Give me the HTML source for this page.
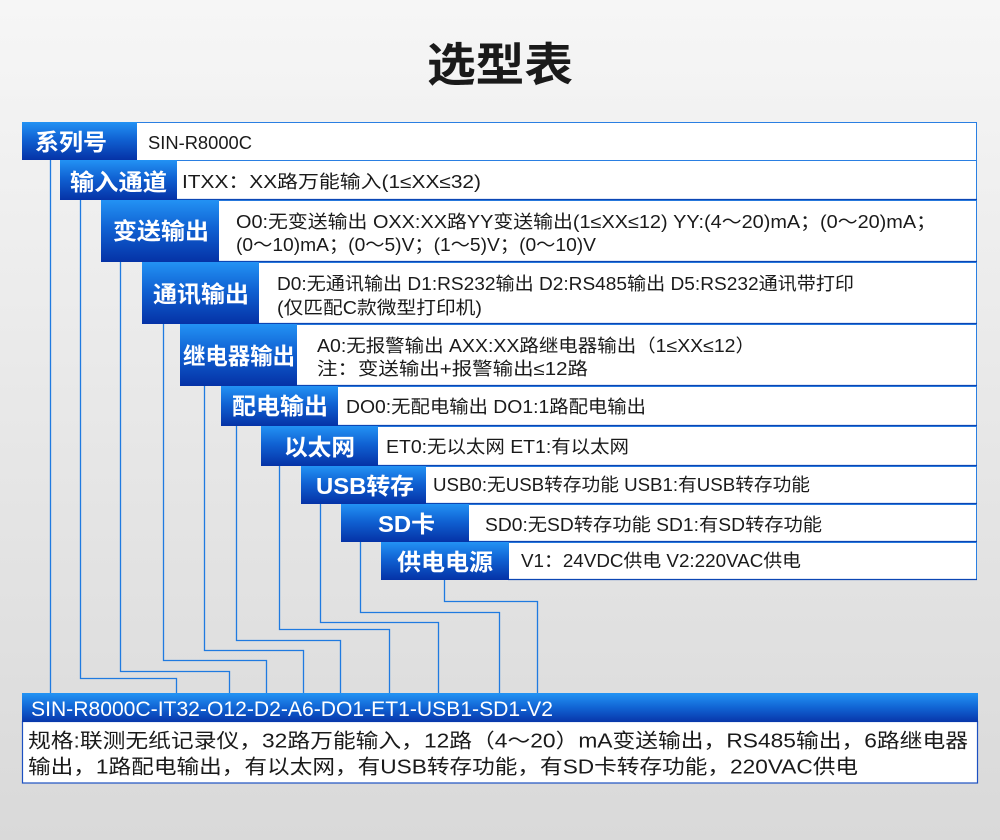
<!DOCTYPE html>
<html><head><meta charset="utf-8"><style>
html,body{margin:0;padding:0;width:1000px;height:840px;overflow:hidden;}
svg{display:block;}
text{font-family:"Liberation Sans","Noto Sans CJK SC",sans-serif;}
.t{font-size:18px;fill:#1a1a1a;}
.l{font-size:23px;font-weight:bold;fill:#ffffff;}
</style></head><body>
<svg width="1000" height="840" viewBox="0 0 1000 840" xmlns="http://www.w3.org/2000/svg">
<defs>
<linearGradient id="bg" x1="0" y1="0" x2="0" y2="1">
<stop offset="0" stop-color="#f6f6f6"/><stop offset="1" stop-color="#d9d9d9"/>
</linearGradient>
<linearGradient id="lb" x1="0" y1="0" x2="0" y2="1">
<stop offset="0" stop-color="#2392f4"/><stop offset="0.45" stop-color="#1062d3"/><stop offset="1" stop-color="#0532a6"/>
</linearGradient>
<linearGradient id="hb" x1="0" y1="0" x2="0" y2="1">
<stop offset="0" stop-color="#2394f4"/><stop offset="0.5" stop-color="#1164d4"/><stop offset="1" stop-color="#0836aa"/>
</linearGradient>
</defs>
<rect x="0" y="0" width="1000" height="840" fill="url(#bg)"/>

<text x="500" y="81" text-anchor="middle" style="font-size:46px;font-weight:bold;fill:#1a1a1a" textLength="146" lengthAdjust="spacingAndGlyphs">选型表</text>

<!-- connector lines -->
<g fill="none" stroke="#1f7ae0" stroke-width="1.3">
<path d="M50.5 160 V693"/>
<path d="M80.5 200 V678.5 H176.5 V693"/>
<path d="M120.5 262 V671.5 H229.5 V693"/>
<path d="M163.5 324 V660.5 H266.5 V693"/>
<path d="M204.5 386 V650.5 H303.5 V693"/>
<path d="M236.5 426 V640.5 H340.5 V693"/>
<path d="M279.5 466 V629.5 H389.5 V693"/>
<path d="M320.5 504 V622.5 H438.5 V693"/>
<path d="M360.5 542 V612.5 H499.5 V693"/>
<path d="M444.5 580 V601.5 H537.5 V693"/>
</g>

<!-- white boxes -->
<g fill="#ffffff" stroke="#2a7fe2" stroke-width="1">
<rect x="136.5" y="122.5" width="840" height="38"/>
<rect x="176.5" y="160.5" width="800" height="39"/>
<rect x="218.5" y="200.5" width="758" height="61"/>
<rect x="258.5" y="262.5" width="718" height="61"/>
<rect x="296.5" y="324.5" width="680" height="61"/>
<rect x="337.5" y="386.5" width="639" height="39"/>
<rect x="377.5" y="426.5" width="599" height="39"/>
<rect x="425.5" y="466.5" width="551" height="37"/>
<rect x="468.5" y="504.5" width="508" height="37"/>
<rect x="508.5" y="542.5" width="468" height="37"/>
</g>
<g stroke="#0c46b4" stroke-width="1.2">
<line x1="176" y1="199.5" x2="977" y2="199.5"/>
<line x1="218" y1="261.5" x2="977" y2="261.5"/>
<line x1="258" y1="323.5" x2="977" y2="323.5"/>
<line x1="296" y1="385.5" x2="977" y2="385.5"/>
<line x1="337" y1="425.5" x2="977" y2="425.5"/>
<line x1="377" y1="465.5" x2="977" y2="465.5"/>
<line x1="425" y1="503.5" x2="977" y2="503.5"/>
<line x1="468" y1="541.5" x2="977" y2="541.5"/>
<line x1="508" y1="579.5" x2="977" y2="579.5"/>
</g>

<!-- labels -->
<g fill="url(#lb)">
<rect x="22" y="122" width="115" height="38"/>
<rect x="60" y="160" width="117" height="40"/>
<rect x="101" y="200" width="118" height="62"/>
<rect x="142" y="262" width="117" height="62"/>
<rect x="180" y="324" width="117" height="62"/>
<rect x="221" y="386" width="117" height="40"/>
<rect x="261" y="426" width="117" height="40"/>
<rect x="301" y="466" width="125" height="38"/>
<rect x="341" y="504" width="128" height="38"/>
<rect x="381" y="542" width="128" height="38"/>
</g>
<g class="l">
<text class="l" x="35" y="150" textLength="72" lengthAdjust="spacingAndGlyphs">系列号</text>
<text class="l" x="70" y="190" textLength="97" lengthAdjust="spacingAndGlyphs">输入通道</text>
<text class="l" x="113" y="239" textLength="96" lengthAdjust="spacingAndGlyphs">变送输出</text>
<text class="l" x="153" y="302" textLength="96" lengthAdjust="spacingAndGlyphs">通讯输出</text>
<text class="l" x="183" y="364" textLength="112" lengthAdjust="spacingAndGlyphs">继电器输出</text>
<text class="l" x="232" y="414" textLength="96" lengthAdjust="spacingAndGlyphs">配电输出</text>
<text class="l" x="284" y="455" textLength="71" lengthAdjust="spacingAndGlyphs">以太网</text>
<text class="l" x="316" y="494" textLength="98" lengthAdjust="spacingAndGlyphs">USB转存</text>
<text class="l" x="378" y="532" textLength="57" lengthAdjust="spacingAndGlyphs">SD卡</text>
<text class="l" x="397" y="570" textLength="96" lengthAdjust="spacingAndGlyphs">供电电源</text>
</g>

<!-- content text -->
<text class="t" x="148" y="149" textLength="104" lengthAdjust="spacingAndGlyphs">SIN-R8000C</text>
<text class="t" x="182" y="188" textLength="299" lengthAdjust="spacingAndGlyphs">ITXX：XX路万能输入(1≤XX≤32)</text>
<text class="t" x="236" y="228" textLength="700" lengthAdjust="spacingAndGlyphs">O0:无变送输出 OXX:XX路YY变送输出(1≤XX≤12)  YY:(4～20)mA；(0～20)mA；</text>
<text class="t" x="236" y="251" textLength="360" lengthAdjust="spacingAndGlyphs">(0～10)mA；(0～5)V；(1～5)V；(0～10)V</text>
<text class="t" x="277" y="290" textLength="577" lengthAdjust="spacingAndGlyphs">D0:无通讯输出 D1:RS232输出 D2:RS485输出 D5:RS232通讯带打印</text>
<text class="t" x="277" y="314" textLength="205" lengthAdjust="spacingAndGlyphs">(仅匹配C款微型打印机)</text>
<text class="t" x="317" y="352" textLength="438" lengthAdjust="spacingAndGlyphs">A0:无报警输出 AXX:XX路继电器输出（1≤XX≤12）</text>
<text class="t" x="317" y="375" textLength="271" lengthAdjust="spacingAndGlyphs">注：变送输出+报警输出≤12路</text>
<text class="t" x="346" y="413" textLength="300" lengthAdjust="spacingAndGlyphs">DO0:无配电输出 DO1:1路配电输出</text>
<text class="t" x="386" y="453" textLength="243" lengthAdjust="spacingAndGlyphs">ET0:无以太网 ET1:有以太网</text>
<text class="t" x="433" y="491" textLength="377" lengthAdjust="spacingAndGlyphs">USB0:无USB转存功能 USB1:有USB转存功能</text>
<text class="t" x="485" y="531" textLength="337" lengthAdjust="spacingAndGlyphs">SD0:无SD转存功能 SD1:有SD转存功能</text>
<text class="t" x="521" y="567" textLength="280" lengthAdjust="spacingAndGlyphs">V1：24VDC供电 V2:220VAC供电</text>

<!-- bottom box -->
<rect x="22.5" y="721.5" width="955" height="61.5" fill="#ffffff" stroke="#1c50c2" stroke-width="1.2"/>
<rect x="22" y="693" width="956" height="29" fill="url(#hb)"/>
<text x="31" y="716" style="font-size:21px;fill:#ffffff" textLength="522" lengthAdjust="spacingAndGlyphs">SIN-R8000C-IT32-O12-D2-A6-DO1-ET1-USB1-SD1-V2</text>
<text x="28" y="747.5" style="font-size:20px;fill:#1a1a1a" textLength="940" lengthAdjust="spacingAndGlyphs">规格:联测无纸记录仪，32路万能输入，12路（4～20）mA变送输出，RS485输出，6路继电器</text>
<text x="28" y="773.5" style="font-size:20px;fill:#1a1a1a" textLength="830" lengthAdjust="spacingAndGlyphs">输出，1路配电输出，有以太网，有USB转存功能，有SD卡转存功能，220VAC供电</text>
</svg>
</body></html>
